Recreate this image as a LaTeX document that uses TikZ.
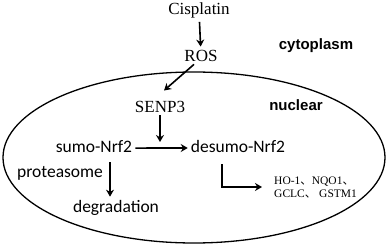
\documentclass[tikz,border=0pt]{standalone}
\usepackage{fontspec}
\setmainfont{Liberation Serif}
\newfontfamily\calib{Carlito}
\newfontfamily\arialf{Liberation Sans}
\newfontfamily\cjk{Noto Sans CJK SC}
\usetikzlibrary{arrows.meta}
\begin{document}
\begin{tikzpicture}[x=1pt,y=-1pt,
  serif/.style={font=\fontsize{17}{20}\selectfont,anchor=base,inner sep=3pt},
  sans/.style={font=\calib\fontsize{17.5}{20}\selectfont,anchor=base,inner sep=3pt},
  region/.style={font=\arialf\bfseries\fontsize{15}{18}\selectfont,anchor=base},
  arr/.style={-{Stealth[length=7pt,width=8pt]},line width=1.6pt}]
\useasboundingbox (0,0) rectangle (389,249);
\draw[line width=1.3pt] (194,157.5) ellipse [x radius=191, y radius=85.5];
\node[serif] (cis) at (199,15) {Cisplatin};
\node[serif] (ros) at (201,61) {ROS};
\node[region] (cyto) at (316,49) {cytoplasm};
\node[serif] (senp) at (160,112) {SENP3};
\node[region] (nucl) at (296,110) {nuclear};
\node[sans] (sumo) at (94,152) {sumo-Nrf2};
\node[sans] (desumo) at (238,152) {desumo-Nrf2};
\node[sans] (prot) at (60,177) {proteasome};
\node[sans] (degr) at (116,212) {degradation};
\node[font=\fontsize{11.5}{12.5}\selectfont,align=left,anchor=west,inner sep=0pt] (genes) at (274,187)
  {HO-1{\cjk\smash{、}}NQO1{\cjk\smash{、}}\\GCLC{\cjk\smash{、}} GSTM1};
\coordinate (hit) at (160,142);
\draw[arr] (cis) -- (ros);
\draw[arr] ([xshift=-7pt]ros.south) -- ([xshift=4pt,yshift=7pt]senp.north);
\draw[arr] (senp) -- (hit);
\draw[arr] ([yshift=-2pt]sumo.east) -- ([yshift=-2pt]desumo.west);
\draw[arr,shorten <=7pt] ([xshift=16pt]sumo.south) -- ([xshift=16pt]sumo.south |- degr.north);
\draw[arr,shorten <=9pt,shorten >=12pt] ([xshift=-16pt]desumo.south) |- (genes.west);
\end{tikzpicture}
\end{document}
